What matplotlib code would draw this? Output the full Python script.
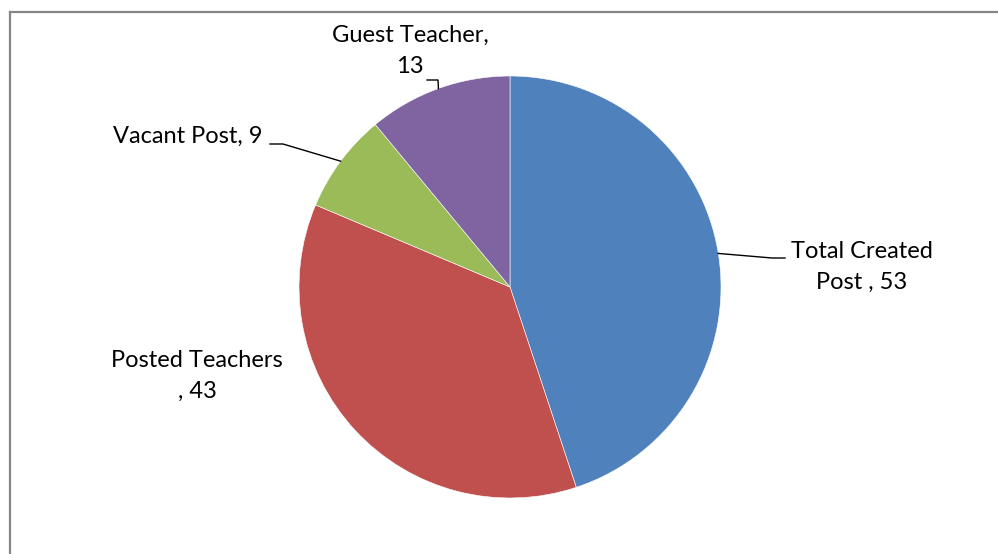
import numpy as np
import matplotlib.pyplot as plt
from matplotlib.lines import Line2D

labels = ["Total Created\nPost , 53", "Posted Teachers\n, 43", "Vacant Post, 9", "Guest Teacher,\n13"]
values = [53, 43, 9, 13]
colors = ["#4F81BD", "#C0504D", "#9BBB59", "#8064A2"]

W, H = 998, 554
plt.rcParams["font.family"] = ["Lato", "DejaVu Sans"]

fig = plt.figure(figsize=(W / 100, H / 100), dpi=100)
ax = fig.add_axes([0, 0, 1, 1])

cx, cy, r = 510, H - 287, 211
wedges, _ = ax.pie(values, colors=colors, startangle=90, counterclock=False,
                   center=(cx, cy), radius=r, frame=True,
                   wedgeprops=dict(edgecolor="white", linewidth=0.4))
ax.set_xlim(0, W)
ax.set_ylim(0, H)
ax.set_aspect("equal")
ax.axis("off")

# label text positions (pixel coords, y from top) and elbow points of leader lines
text_pos = [(862, 267), (197, 376), (188, 136), (410, 51)]
elbows = [[(785, 258), (772, 258)], None, [(270, 144), (283, 144)], [(427, 80), (438, 80)]]

for w, lab, (tx, ty), elb in zip(wedges, labels, text_pos, elbows):
    ax.text(tx, H - ty, lab, ha="center", va="center", fontsize=17,
            color="#000000", linespacing=1.58)
    if elb is None:
        continue
    mid = np.deg2rad((w.theta1 + w.theta2) / 2)
    ex, ey = cx + r * np.cos(mid), cy + r * np.sin(mid)
    xs = [p[0] for p in elb] + [ex]
    ys = [H - p[1] for p in elb] + [ey]
    ax.plot(xs, ys, color="black", linewidth=1.0)

# chart area border (runs off the right and bottom edges)
border_kw = dict(color="#868686", linewidth=1.6, transform=None)
fig.lines.append(Line2D([10, W + 5], [H - 12, H - 12], **border_kw))
fig.lines.append(Line2D([10, 10], [H - 12, -5], **border_kw))

fig.savefig("out.png", dpi=100, facecolor="white")
